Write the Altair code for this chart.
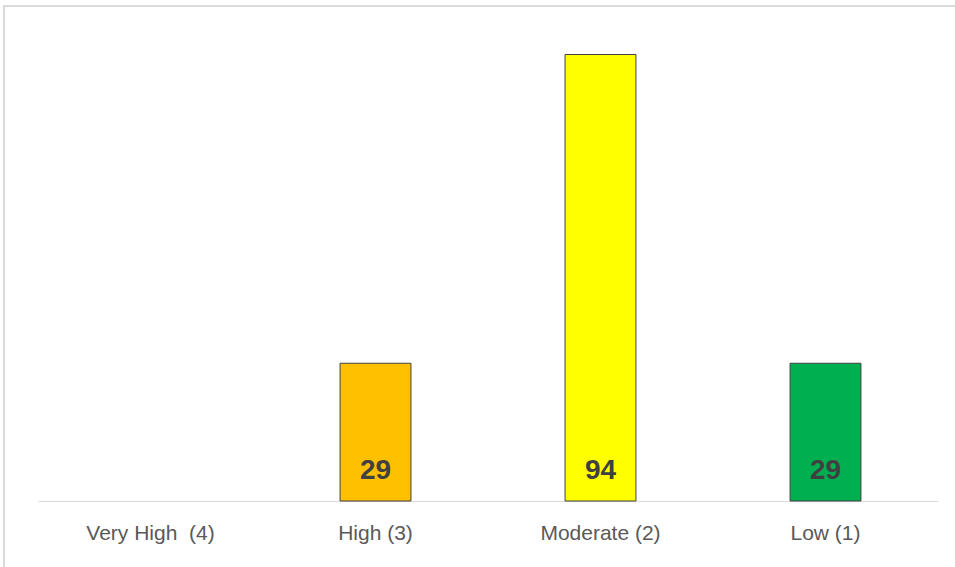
import altair as alt
import pandas as pd

categories = ["Very High\u00a0\u00a0(4)", "High (3)", "Moderate (2)", "Low (1)"]
values = [0, 29, 94, 29]
colors = ["#FF0000", "#FFC000", "#FFFF00", "#00B050"]

df = pd.DataFrame({"cat": categories, "val": values, "col": colors})

x = alt.X("cat:N", sort=categories, title=None,
          scale=alt.Scale(domain=categories, paddingInner=0.685, paddingOuter=0.3425),
          axis=alt.Axis(labelAngle=0, ticks=False, domain=True, domainColor="#D9D9D9",
                        domainWidth=1, labelFont="Liberation Sans", labelFontSize=21,
                        labelColor="#595959", labelPadding=21))
y = alt.Y("val:Q", scale=alt.Scale(domain=[0, 100]), axis=None)

bars = alt.Chart(df).transform_filter("datum.val > 0").mark_bar(
    stroke="#404040", strokeWidth=1
).encode(x=x, y=y, color=alt.Color("col:N", scale=None))

text = alt.Chart(df).transform_filter("datum.val > 0").mark_text(
    font="Liberation Sans", fontWeight="bold", fontSize=28, color="#404040",
    baseline="middle", dy=-30
).encode(x=alt.X("cat:N", sort=categories, scale=alt.Scale(domain=categories)),
         y=alt.value(475), text="val:Q")

border_top = alt.Chart(df).mark_rule(color="#D9D9D9", strokeWidth=2).encode(
    x=alt.value(-35), x2=alt.value(920), y=alt.value(-20)
)
border_left = alt.Chart(df).mark_rule(color="#D9D9D9", strokeWidth=2).encode(
    x=alt.value(-34), y=alt.value(-21), y2=alt.value(545)
)

chart = alt.layer(bars, text, border_top, border_left).properties(
    width=900, height=475,
    padding={"left": 38, "top": 26, "right": 17, "bottom": 66},
    autosize=alt.AutoSizeParams(type="none"),
).configure_view(stroke=None)

chart.save("out.html", embed_options={"renderer": "svg", "actions": False})
